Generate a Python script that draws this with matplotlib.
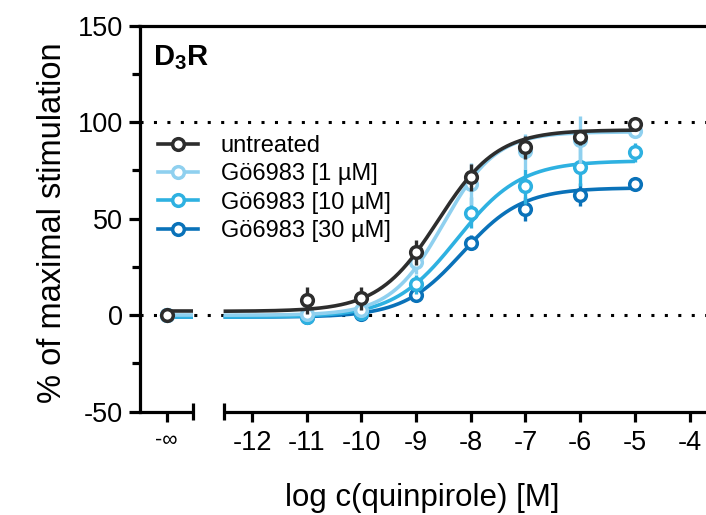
import numpy as np
import matplotlib
matplotlib.use("Agg")
import matplotlib.pyplot as plt
from matplotlib.lines import Line2D

plt.rcParams['font.family'] = ['Liberation Sans', 'DejaVu Sans']
plt.rcParams['mathtext.fontset'] = 'custom'
plt.rcParams['mathtext.rm'] = 'Liberation Sans'
plt.rcParams['mathtext.bf'] = 'Liberation Sans:bold'
plt.rcParams['axes.unicode_minus'] = False

# ---------------- data ----------------
log_conc = [-11, -10, -9, -8, -7, -6, -5]          # log c(quinpirole) [M]
series_names = ["untreated", "Gö6983 [1 µM]", "Gö6983 [10 µM]", "Gö6983 [30 µM]"]
colors = ["#2d2d2d", "#8fd0ef", "#2eb1e1", "#0a72b9"]

basal_untreated = 0.0
basal_1uM = 0.0
basal_10uM = 0.0
basal_30uM = 0.0

resp_untreated = [7.7, 8.8, 32.5, 71.5, 87.0, 92.1, 99.2]
resp_1uM = [0.5, 2.5, 27.5, 68.0, 85.0, 91.0, 95.6]
resp_10uM = [-1.0, 1.0, 16.0, 53.0, 66.8, 77.0, 84.4]
resp_30uM = [-1.0, 0.5, 10.3, 37.6, 55.0, 62.5, 68.0]

sem_untreated = [6.9, 6.0, 6.5, 6.9, 6.0, 4.0, 1.5]
sem_1uM = [2.0, 2.0, 6.0, 11.0, 9.0, 12.0, 4.0]
sem_10uM = [1.5, 1.5, 5.0, 8.0, 9.0, 10.0, 5.0]
sem_30uM = [1.5, 1.5, 3.0, 4.0, 6.0, 6.0, 2.0]

# fitted sigmoid parameters: bottom, top, logEC50, hill slope
fit_bottom = [2.0, 0.0, -1.0, -1.0]
fit_top = [96.0, 95.0, 80.0, 66.0]
fit_logec50 = [-8.6, -8.5, -8.25, -8.15]
fit_hill = [0.8, 0.9, 0.75, 0.8]

ytick_vals = [-50, 0, 50, 100, 150]
xtick_vals = [-12, -11, -10, -9, -8, -7, -6, -5, -4]

# ---------------- layout ----------------
X_NEGINF = -13.56      # position used for the -inf (vehicle) point
X_BREAK_L = -13.07
X_BREAK_R = -12.52
XMIN, XMAX = -14.057, -3.70
YMIN, YMAX = -50, 150

fig = plt.figure(figsize=(7.06, 5.15), dpi=100)
ax = fig.add_axes([139.5 / 706, 0.2006, 1 - 139.5 / 706, 0.950 - 0.2006])
ax.set_xlim(XMIN, XMAX)
ax.set_ylim(YMIN, YMAX)

lw_axis = 2.3
for s in ['left', 'top']:
    ax.spines[s].set_linewidth(lw_axis)
    ax.spines[s].set_color('black')
ax.spines['right'].set_visible(False)
ax.spines['bottom'].set_linewidth(lw_axis)
ax.spines['bottom'].set_bounds(XMIN, X_BREAK_L)
ax.spines['bottom'].set_capstyle('butt')

# right part of broken x-axis
ax.plot([X_BREAK_R, XMAX], [YMIN, YMIN], color='black', lw=lw_axis,
        clip_on=False, solid_capstyle='butt', zorder=5)
# end caps at the break
for xb in (X_BREAK_L, X_BREAK_R):
    ax.plot([xb, xb], [YMIN + 4.6, YMIN - 4.4], color='black', lw=lw_axis,
            clip_on=False, solid_capstyle='butt', zorder=5)

# reference lines
for yref in (0, 100):
    ax.axhline(yref, color='black', lw=2.2, ls=(0, (1, 3.4)), zorder=1)

# ticks
ax.set_yticks(ytick_vals)
ax.set_yticks([-25, 25, 75, 125], minor=True)
ax.tick_params(axis='y', which='major', direction='out', length=8, width=lw_axis,
               labelsize=19.5, pad=4)
ax.tick_params(axis='y', which='minor', direction='out', length=6, width=lw_axis)
ax.set_xticks([X_NEGINF] + xtick_vals)
ax.set_xticklabels(['-∞'] + [str(v) for v in xtick_vals])
ax.tick_params(axis='x', which='major', direction='out', length=7, width=lw_axis,
               labelsize=19.5, pad=6)
ax.get_xticklabels()[0].set_fontsize(15.5)

# data
basals = [basal_untreated, basal_1uM, basal_10uM, basal_30uM]
resps = [resp_untreated, resp_1uM, resp_10uM, resp_30uM]
sems = [sem_untreated, sem_1uM, sem_10uM, sem_30uM]

xs = np.linspace(X_BREAK_R, log_conc[-1], 400)
order = [3, 2, 1, 0]
mk = dict(marker='o', markersize=8.4, markeredgewidth=2.5, markerfacecolor='white')
for i in order:
    c = colors[i]
    z = 3 + (3 - i) * 2
    b, t, e, h = fit_bottom[i], fit_top[i], fit_logec50[i], fit_hill[i]
    curve = b + (t - b) / (1 + 10 ** ((e - xs) * h))
    ax.plot(xs, curve, color=c, lw=2.6, zorder=z, solid_capstyle='butt')
    ax.plot([X_NEGINF, X_BREAK_L], [b, b], color=c, lw=2.6, zorder=z,
            solid_capstyle='butt')
    ax.errorbar(log_conc, resps[i], yerr=sems[i], fmt='none', ecolor=c,
                elinewidth=2.4, capsize=0, zorder=z + 0.5)
    ax.plot(log_conc, resps[i], ls='none', color=c, zorder=z + 1, **mk)
    ax.plot([X_NEGINF], [basals[i]], ls='none', color=c, zorder=z + 1,
            clip_on=False, **mk)

# legend
handles = [Line2D([], [], color=colors[i], lw=2.6, **mk) for i in range(4)]
ax.legend(handles, series_names, loc='upper left', bbox_to_anchor=(0.033, 0.716),
          frameon=False, fontsize=17, handlelength=1.7, handletextpad=0.95,
          labelspacing=0.26, borderpad=0, borderaxespad=0)

# panel title
ax.text(0.024, 0.898, r'$\mathbf{D_3R}$', transform=ax.transAxes, fontsize=21,
        ha='left', va='baseline')

# axis labels
fig.text(52.5 / 706, (515 - 223) / 515, '% of maximal stimulation', rotation=90,
         ha='center', va='center', fontsize=23.5)
fig.text(422 / 706, (515 - 498) / 515, 'log c(quinpirole) [M]', ha='center',
         va='center', fontsize=22.5)

fig.savefig('out.png', dpi=100)
